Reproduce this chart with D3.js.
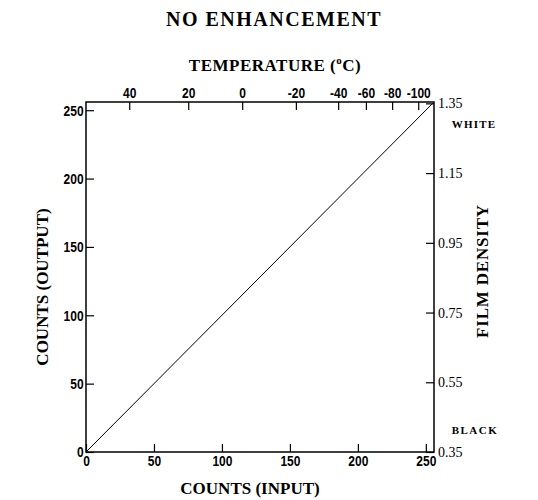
<!DOCTYPE html>
<html>
<head>
<meta charset="utf-8">
<script src="https://cdn.jsdelivr.net/npm/d3@7"></script>
<style>
  body { margin: 0; background: #fff; }
  svg { display: block; }
</style>
</head>
<body>
<svg></svg>
<script>
// constants
const WIDTH = 538;
const HEIGHT = 500;
const LEFT = 86, RIGHT = 434, TOP = 102, BOTTOM = 452;

// data
const inputCounts = [0, 255];
const outputCounts = [0, 255];
const countTicks = [0, 50, 100, 150, 200, 250];
const densityTicks = [0.35, 0.55, 0.75, 0.95, 1.15, 1.35];
const tempTicks = [40, 20, 0, -20, -40, -60, -80, -100];
const tempCounts = [31.8, 75.2, 114.9, 154.4, 185.5, 205.9, 225.2, 244.4];

const svg = d3.select('svg')
    .attr('width', WIDTH)
    .attr('height', HEIGHT);

// scales
const x = d3.scaleLinear().domain([0, 256]).range([LEFT, RIGHT]);
const y = d3.scaleLinear().domain([0, 256]).range([BOTTOM, TOP]);
const density = d3.scaleLinear().domain([0.35, 1.35]).range([y(0), y(255)]);
const temp = d3.scaleLinear().domain(tempTicks).range(tempCounts.map(c => x(c)));

const SANS = '"Liberation Sans", Arial, sans-serif';
const SERIF = '"Liberation Serif", "Times New Roman", serif';

// axes
const bottomAxis = svg.append('g')
    .attr('transform', `translate(0, ${BOTTOM})`)
    .call(d3.axisBottom(x).tickValues(countTicks).tickSizeInner(-8).tickSizeOuter(0).tickPadding(3));

const leftAxis = svg.append('g')
    .attr('transform', `translate(${LEFT}, 0)`)
    .call(d3.axisLeft(y).tickValues(countTicks).tickSizeInner(-8).tickSizeOuter(0).tickPadding(3));

const topAxis = svg.append('g')
    .attr('transform', `translate(0, ${TOP})`)
    .call(d3.axisTop(temp).tickValues(tempTicks).tickFormat(d => String(d))
        .tickSizeInner(-8).tickSizeOuter(0).tickPadding(4));

const rightAxis = svg.append('g')
    .attr('transform', `translate(${RIGHT}, 0)`)
    .call(d3.axisRight(density).tickValues(densityTicks).tickFormat(d3.format('.2f'))
        .tickSizeInner(-8).tickSizeOuter(0).tickPadding(4));

[bottomAxis, leftAxis, topAxis, rightAxis].forEach(a => {
    a.select('.domain').remove();
    a.selectAll('line').attr('stroke', '#000').attr('stroke-width', 1.2);
});

// narrow bold digits, squeezed horizontally
[bottomAxis, leftAxis, topAxis].forEach(a => {
    a.selectAll('text')
        .attr('fill', '#000')
        .attr('font-family', SANS)
        .attr('font-weight', 'bold')
        .attr('font-size', 15)
        .attr('transform', 'scale(0.8, 1)');
});
rightAxis.selectAll('text')
    .attr('fill', '#000')
    .attr('font-family', SERIF)
    .attr('font-size', 14);

// frame
svg.append('rect')
    .attr('x', LEFT)
    .attr('y', TOP)
    .attr('width', RIGHT - LEFT)
    .attr('height', BOTTOM - TOP)
    .attr('fill', 'none')
    .attr('stroke', '#000')
    .attr('stroke-width', 1.5);

// the curve
const line = d3.line()
    .x(d => x(d[0]))
    .y(d => y(d[1]));

svg.append('path')
    .datum(d3.zip(inputCounts, outputCounts))
    .attr('d', line)
    .attr('fill', 'none')
    .attr('stroke', '#000')
    .attr('stroke-width', 1);

// titles
function label(txt, px, py, size, rot) {
    return svg.append('text')
        .attr('transform', `translate(${px}, ${py})` + (rot ? ` rotate(${rot})` : ''))
        .attr('text-anchor', 'middle')
        .attr('dominant-baseline', 'central')
        .attr('font-family', SERIF)
        .attr('font-weight', 'bold')
        .attr('font-size', size)
        .attr('fill', '#000')
        .text(txt);
}

label('NO ENHANCEMENT', 274, 19, 20).attr('letter-spacing', 1.5);
label('COUNTS (INPUT)', 250, 488, 17);
label('COUNTS (OUTPUT)', 42, 287, 17, -90);
label('FILM DENSITY', 482, 271, 17, -90).attr('letter-spacing', 0.8);

const tempTitle = label('', 275, 65, 17).attr('letter-spacing', 0.5);
tempTitle.append('tspan').text('TEMPERATURE (');
tempTitle.append('tspan').attr('font-size', 11).attr('dy', -5).text('o');
tempTitle.append('tspan').attr('dy', 5).text('C)');

label('WHITE', 474, 124, 11).attr('letter-spacing', 1.2);
label('BLACK', 475, 430, 11).attr('letter-spacing', 1.5);
</script>
</body>
</html>
